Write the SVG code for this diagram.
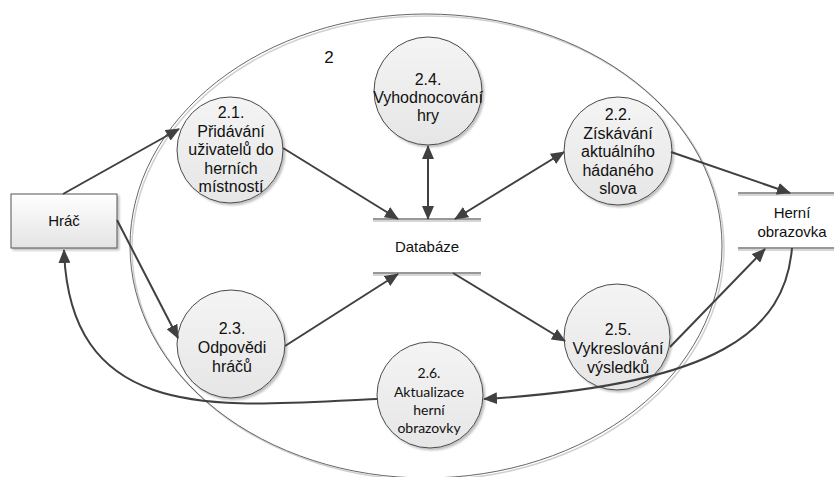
<svg xmlns="http://www.w3.org/2000/svg" width="834" height="477" viewBox="0 0 834 477">
  <defs>
    <linearGradient id="nodeFill" x1="0" y1="0" x2="0" y2="1">
      <stop offset="0" stop-color="#f4f4f4"/>
      <stop offset="1" stop-color="#e6e6e6"/>
    </linearGradient>
    <linearGradient id="boxFill" x1="0" y1="0" x2="0" y2="1">
      <stop offset="0" stop-color="#ffffff"/>
      <stop offset="1" stop-color="#e4e4e4"/>
    </linearGradient>
    <filter id="shadow" x="-20%" y="-20%" width="150%" height="150%">
      <feGaussianBlur in="SourceAlpha" stdDeviation="1.2"/>
      <feOffset dx="2" dy="2" result="off"/>
      <feComponentTransfer><feFuncA type="linear" slope="0.25"/></feComponentTransfer>
      <feMerge><feMergeNode/><feMergeNode in="SourceGraphic"/></feMerge>
    </filter>
    <marker id="arrow" viewBox="0 0 14 12" refX="13" refY="6" markerWidth="14" markerHeight="12" markerUnits="userSpaceOnUse" orient="auto-start-reverse">
      <path d="M0,0 L14,6 L0,12 z" fill="#404040"/>
    </marker>
  </defs>
  <style>
    .proc { fill: url(#nodeFill); stroke: #4a4a4a; stroke-width: 1; filter: url(#shadow); }
    .t { font-family: "Liberation Sans", Arial, sans-serif; font-size: 16px; fill: #111; text-anchor: middle; }
    .s { font-family: "Liberation Sans", Arial, sans-serif; font-size: 15px; fill: #111; text-anchor: middle; }
    .c { font-family: Lato, "Open Sans", sans-serif; font-size: 14px; fill: #111; text-anchor: middle; }
    .store { stroke: #333; stroke-width: 1.2; }
    .storeShade { stroke: #c8c8c8; stroke-width: 1.5; }
    .flow { fill: none; stroke: #404040; stroke-width: 2; }
  </style>

  <rect width="834" height="477" fill="#ffffff"/>

  <!-- subsystem boundary -->
  <g id="boundary">
    <ellipse cx="428" cy="248" rx="296" ry="232" fill="none" stroke="#d0d0d0" stroke-width="1.5"/>
    <ellipse cx="426" cy="246" rx="296" ry="232" fill="none" stroke="#555" stroke-width="0.9"/>
    <text x="329" y="63" class="t" style="font-size:17px">2</text>
  </g>

  <!-- external entity -->
  <g id="hrac">
    <rect x="11" y="194" width="106" height="54" fill="url(#boxFill)" stroke="#555" stroke-width="1" filter="url(#shadow)"/>
    <text x="64" y="226" class="s">Hráč</text>
  </g>

  <!-- data stores -->
  <g id="databaze">
    <line x1="373" y1="221" x2="481" y2="221" class="storeShade"/>
    <line x1="373" y1="219" x2="481" y2="219" class="store"/>
    <line x1="373" y1="275" x2="481" y2="275" class="storeShade"/>
    <line x1="373" y1="273" x2="481" y2="273" class="store"/>
    <text x="427" y="252" class="s">Databáze</text>
  </g>
  <g id="herni-obrazovka">
    <line x1="738" y1="195" x2="834" y2="195" class="storeShade"/>
    <line x1="738" y1="193" x2="834" y2="193" class="store"/>
    <line x1="738" y1="250" x2="834" y2="250" class="storeShade"/>
    <line x1="738" y1="248" x2="834" y2="248" class="store"/>
    <text x="792" y="218" class="s">Herní</text>
    <text x="792" y="237" class="s">obrazovka</text>
  </g>

  <!-- processes -->
  <g id="p2-1">
    <circle cx="230" cy="150" r="53" class="proc"/>
    <text class="t"><tspan x="231" y="118">2.1.</tspan><tspan x="231" y="136.5">Přidávání</tspan><tspan x="231" y="155">uživatelů do</tspan><tspan x="231" y="173.5">herních</tspan><tspan x="231" y="192">místností</tspan></text>
  </g>
  <g id="p2-4">
    <circle cx="428" cy="91" r="54" class="proc"/>
    <text class="t"><tspan x="428" y="85">2.4.</tspan><tspan x="428" y="103">Vyhodnocování</tspan><tspan x="428" y="121">hry</tspan></text>
  </g>
  <g id="p2-2">
    <circle cx="618" cy="151" r="54" class="proc"/>
    <text class="t"><tspan x="618" y="120">2.2.</tspan><tspan x="618" y="138.5">Získávání</tspan><tspan x="618" y="157">aktuálního</tspan><tspan x="618" y="175.5">hádaného</tspan><tspan x="618" y="194">slova</tspan></text>
  </g>
  <g id="p2-3">
    <circle cx="231" cy="344" r="54" class="proc"/>
    <text class="t"><tspan x="232" y="334">2.3.</tspan><tspan x="232" y="353">Odpovědi</tspan><tspan x="232" y="372">hráčů</tspan></text>
  </g>
  <g id="p2-5">
    <circle cx="617" cy="337" r="53" class="proc"/>
    <text class="t"><tspan x="618" y="335">2.5.</tspan><tspan x="618" y="354">Vykreslování</tspan><tspan x="618" y="373">výsledků</tspan></text>
  </g>
  <g id="p2-6">
    <circle cx="430" cy="395" r="53" class="proc"/>
    <text class="c"><tspan x="429" y="378">2.6.</tspan><tspan x="429" y="396.5">Aktualizace</tspan><tspan x="429" y="415">herní</tspan><tspan x="429" y="433">obrazovky</tspan></text>
  </g>

  <!-- data flows -->
  <g id="flows">
    <line x1="63" y1="194" x2="179" y2="129" class="flow" marker-end="url(#arrow)"/>
    <line x1="117" y1="220" x2="178" y2="338" class="flow" marker-end="url(#arrow)"/>
    <line x1="283" y1="148" x2="398" y2="219" class="flow" marker-end="url(#arrow)"/>
    <line x1="428" y1="146" x2="428" y2="219" class="flow" marker-start="url(#arrow)" marker-end="url(#arrow)"/>
    <line x1="564" y1="152" x2="455" y2="219" class="flow" marker-start="url(#arrow)" marker-end="url(#arrow)"/>
    <line x1="285" y1="346" x2="398" y2="274" class="flow" marker-end="url(#arrow)"/>
    <line x1="453" y1="273" x2="565" y2="341" class="flow" marker-end="url(#arrow)"/>
    <line x1="670" y1="347" x2="765" y2="249" class="flow" marker-end="url(#arrow)"/>
    <line x1="671" y1="152" x2="790" y2="193" class="flow" marker-end="url(#arrow)"/>
    <path d="M792,248 C785,330 720,385 484,399" class="flow" marker-end="url(#arrow)"/>
    <path d="M377,399 C230,405 70,430 64,250" class="flow" marker-end="url(#arrow)"/>
  </g>
</svg>
